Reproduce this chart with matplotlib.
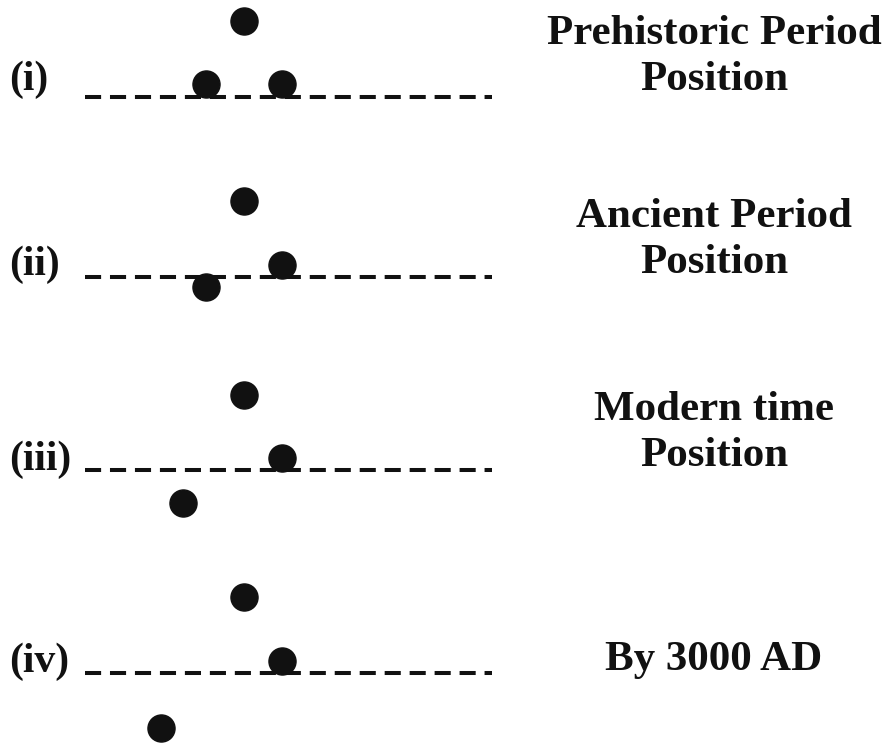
import matplotlib
matplotlib.use("Agg")
import matplotlib.pyplot as plt

# panel data: line height and ball positions (pixel units of the picture)
panel_labels = ["(i)", "(ii)", "(iii)", "(iv)"]
captions = ["Prehistoric Period\nPosition", "Ancient Period\nPosition",
            "Modern time\nPosition", "By 3000 AD"]
line_y = [97, 277, 470, 673]
ball_x = [[244, 206, 282], [244, 282, 206], [244, 282, 183], [244, 282, 161]]
ball_y = [[21, 84, 84], [201, 265, 287], [395, 458, 503], [597, 661, 728]]
label_y = [80, 265, 460, 662]
caption_y = [57, 240, 433, 660]

fig = plt.figure(figsize=(8.91, 7.47), dpi=100)
ax = fig.add_axes([0, 0, 1, 1])
ax.set_xlim(0, 891)
ax.set_ylim(747, 0)
ax.axis("off")

font = dict(family="Liberation Serif", fontweight="bold", color="#111111")

for i in range(4):
    ax.plot([85, 492], [line_y[i], line_y[i]], color="#111111", lw=2.9,
            linestyle=(0, (4.0, 2.2)), solid_capstyle="butt")
    ax.scatter(ball_x[i], ball_y[i], s=380, color="#111111", zorder=3)
    ax.text(9, label_y[i], panel_labels[i], fontsize=30, ha="left", va="center", **font)
    ax.text(714, caption_y[i], captions[i], fontsize=31, ha="center", va="center",
            linespacing=1.3, **font)

fig.savefig("out.png", dpi=100)
